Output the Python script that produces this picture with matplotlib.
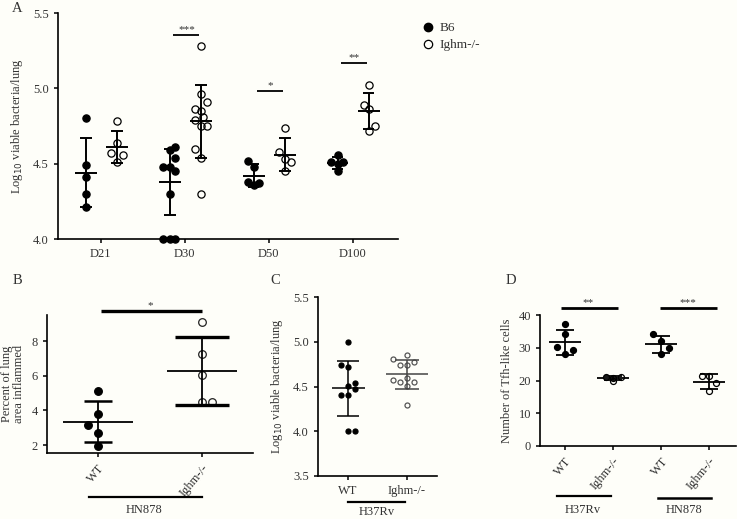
import numpy as np
import matplotlib
matplotlib.use("Agg")
import matplotlib.pyplot as plt
from matplotlib.lines import Line2D

plt.rcParams['font.family'] = ['Liberation Serif', 'DejaVu Serif']
TXT = '#333333'
BG = '#fefef9'

# ---- Panel A data: log10 viable bacteria/lung by day ----
days = ['D21', 'D30', 'D50', 'D100']
a_b6 = [[4.80, 4.49, 4.41, 4.30, 4.21],
        [4.61, 4.59, 4.54, 4.48, 4.48, 4.45, 4.30, 4.00, 4.00, 4.00],
        [4.52, 4.48, 4.38, 4.36, 4.37],
        [4.56, 4.51, 4.51, 4.50, 4.45]]
a_ighm = [[4.78, 4.64, 4.57, 4.56, 4.51],
          [5.28, 4.96, 4.91, 4.86, 4.85, 4.81, 4.79, 4.75, 4.75, 4.60, 4.54, 4.30],
          [4.74, 4.58, 4.53, 4.51, 4.45],
          [5.02, 4.89, 4.86, 4.75, 4.72]]
a_b6_mean = [4.44, 4.38, 4.42, 4.505]
a_b6_sd = [0.23, 0.22, 0.075, 0.04]
a_ighm_mean = [4.61, 4.78, 4.56, 4.85]
a_ighm_sd = [0.105, 0.24, 0.11, 0.12]
a_sig = ['', '***', '*', '**']
a_sig_y = [None, 5.356, 4.985, 5.168]

# ---- Panel B data: percent of lung area inflamed (HN878) ----
b_groups = ['WT', 'Ighm-/-']
b_wt = [5.13, 3.79, 3.17, 2.72, 1.98]
b_ighm = [9.11, 7.24, 6.02, 4.49, 4.49]

# ---- Panel C data: log10 viable bacteria/lung (H37Rv) ----
c_wt = [5.00, 4.74, 4.72, 4.54, 4.51, 4.47, 4.41, 4.40, 4.00, 4.00]
c_ighm = [4.85, 4.81, 4.77, 4.74, 4.74, 4.60, 4.57, 4.55, 4.55, 4.51, 4.29]

# ---- Panel D data: number of Tfh-like cells ----
d_labels = ['WT', 'Ighm-/-', 'WT', 'Ighm-/-']
d_wt_h37 = [37.2, 34.1, 30.1, 29.2, 28.0]
d_ighm_h37 = [21.2, 20.9, 19.9, 21.1]
d_wt_hn = [34.1, 32.1, 30.0, 28.0]
d_ighm_hn = [21.4, 21.4, 19.1, 16.8]

# horizontal scatter (beeswarm-like) offsets, layout only
a_b6_jit = [[0, 0, 0, 0, 0],
            [0.06, 0, 0.06, -0.08, 0, 0.06, 0, -0.08, 0, 0.06],
            [-0.07, 0, -0.07, 0, 0.07],
            [0, -0.08, 0.06, 0, 0]]
a_ighm_jit = [[0, 0, -0.07, 0.07, 0],
              [0, 0, 0.07, -0.07, 0, 0.03, -0.07, 0.07, 0, -0.07, 0, 0],
              [0, -0.07, 0, 0.07, 0],
              [0, -0.06, 0.01, 0.08, 0]]
b_wt_jit = [0, 0, -0.1, 0, 0]
b_ighm_jit = [0, 0, 0, 0, 0.1]
c_wt_jit = [0, -0.125, 0, 0.125, 0, 0.125, -0.125, 0, 0, 0.125]
c_ighm_jit = [0, -0.24, 0.12, -0.12, 0, 0, -0.24, -0.12, 0.12, 0, 0]
d_jit = [[0, 0, -0.16, 0.17, 0], [-0.15, 0, 0, 0.17],
         [-0.16, 0, 0.16, 0], [-0.14, 0, 0.15, 0]]


def group(ax, x0, vals, jit, filled, ms, mean=None, sd=None, mean_hw=0.13,
          cap_hw=0.07, lw=1.4, cap_lw=None, color='black', mcolor='black'):
    vals = np.asarray(vals, float)
    if mean is None:
        mean = vals.mean()
        sd = vals.std(ddof=1)
    cap_lw = lw if cap_lw is None else cap_lw
    ax.plot(x0 + np.asarray(jit), vals, 'o', ms=ms, clip_on=False, zorder=3,
            mfc=mcolor if filled else 'none', mec=mcolor, mew=0.9)
    ax.hlines(mean, x0 - mean_hw, x0 + mean_hw, color=color, lw=lw, zorder=4)
    ax.vlines(x0, mean - sd, mean + sd, color=color, lw=lw, zorder=4)
    ax.hlines([mean - sd, mean + sd], x0 - cap_hw, x0 + cap_hw, color=color,
              lw=cap_lw, zorder=4)


def style(ax, fs=9):
    for s in ['top', 'right']:
        ax.spines[s].set_visible(False)
    for s in ['left', 'bottom']:
        ax.spines[s].set_linewidth(1.2)
    ax.tick_params(labelsize=fs, width=1.1, length=3, colors='black',
                   labelcolor=TXT)
    ax.set_facecolor('none')


fig = plt.figure(figsize=(7.37, 5.19), dpi=100, facecolor=BG)
W, H = 737, 519


def add_axes(l, r, t, b):
    return fig.add_axes([l / W, 1 - b / H, (r - l) / W, (b - t) / H])


# ---------------- Panel A ----------------
ax = add_axes(58, 398, 13, 239)
xs = np.arange(len(days))
for i in range(len(days)):
    group(ax, xs[i] - 0.18, a_b6[i], a_b6_jit[i], True, 5.2,
          a_b6_mean[i], a_b6_sd[i])
    group(ax, xs[i] + 0.19, a_ighm[i], a_ighm_jit[i], False, 5.2,
          a_ighm_mean[i], a_ighm_sd[i])
    if a_sig[i]:
        ax.hlines(a_sig_y[i], xs[i] - 0.14, xs[i] + 0.17, color='black', lw=1.3)
        ax.text(xs[i] + 0.02, a_sig_y[i] + 0.005, a_sig[i], ha='center',
                va='bottom', fontsize=8, color=TXT)
ax.set_xlim(-0.51, 3.54)
ax.set_ylim(4.0, 5.5)
ax.set_yticks([4.0, 4.5, 5.0, 5.5])
ax.set_xticks(xs)
ax.set_xticklabels(days)
ax.set_ylabel('Log$_{10}$ viable bacteria/lung', fontsize=9, color=TXT)
ax.yaxis.set_label_coords(-0.097, 0.5)
style(ax)
handles = [Line2D([], [], marker='o', ls='', ms=6, mfc='black', mec='black'),
           Line2D([], [], marker='o', ls='', ms=6, mfc='none', mec='black',
                  mew=0.9)]
fig.legend(handles, ['B6', 'Ighm-/-'], loc='upper left',
           bbox_to_anchor=(411 / W, 1 - 13 / H), frameon=False, fontsize=9.5,
           handletextpad=0.25, labelspacing=0.35, handlelength=1.2,
           labelcolor=TXT, borderpad=0.2)

# ---------------- Panel B ----------------
ax = add_axes(47, 253, 315, 453)
group(ax, 0, b_wt, b_wt_jit, True, 5.5, mean_hw=0.34, cap_hw=0.13, lw=1.3,
      cap_lw=1.8)
group(ax, 1, b_ighm, b_ighm_jit, False, 5.5, mean_hw=0.34, cap_hw=0.26,
      lw=1.3, cap_lw=2.4, mcolor='#222222')
ax.set_xlim(-0.49, 1.49)
ax.set_ylim(1.55, 9.5)
ax.set_yticks([2, 4, 6, 8])
ax.set_xticks([0, 1])
ax.set_xticklabels(b_groups, rotation=50, ha='right', rotation_mode='anchor')
ax.hlines(9.71, 0.03, 1.0, color='black', lw=2.4, clip_on=False)
ax.text(0.5, 9.78, '*', ha='center', va='bottom', fontsize=8, color=TXT)
tr = ax.get_xaxis_transform()
ax.plot([-0.09, 1.0], [-0.319, -0.319], color='black', lw=1.6,
        transform=tr, clip_on=False)
ax.text(0.44, -0.41, 'HN878', transform=tr, ha='center', va='center',
        fontsize=9, color=TXT)
ax.set_ylabel('Percent of lung\narea inflammed', fontsize=9, color=TXT,
              linespacing=1.0)
ax.yaxis.set_label_coords(-0.105, 0.5)
style(ax)

# ---------------- Panel C ----------------
ax = add_axes(318, 437, 297, 476)
group(ax, 0, c_wt, c_wt_jit, True, 3.6, mean_hw=0.28, cap_hw=0.18, lw=1.1)
group(ax, 1, c_ighm, c_ighm_jit, False, 3.6, mean_hw=0.35, cap_hw=0.2,
      lw=1.1, color='#444444', mcolor='#555555')
ax.set_xlim(-0.51, 1.51)
ax.set_ylim(3.5, 5.5)
ax.set_yticks([3.5, 4.0, 4.5, 5.0, 5.5])
ax.set_xticks([0, 1])
ax.set_xticklabels(b_groups)
tr = ax.get_xaxis_transform()
ax.plot([0.0, 0.97], [-0.145, -0.145], color='black', lw=1.6,
        transform=tr, clip_on=False)
ax.text(0.49, -0.2, 'H37Rv', transform=tr, ha='center', va='center',
        fontsize=9, color=TXT)
ax.set_ylabel('Log$_{10}$ viable bacteria/lung', fontsize=9, color=TXT)
ax.yaxis.set_label_coords(-0.277, 0.5)
style(ax)

# ---------------- Panel D ----------------
ax = add_axes(540, 736, 315, 446)
d_sets = [d_wt_h37, d_ighm_h37, d_wt_hn, d_ighm_hn]
for i, vals in enumerate(d_sets):
    filled = (i % 2 == 0)
    group(ax, i, vals, d_jit[i], filled, 4.3, mean_hw=0.33, cap_hw=0.18,
          lw=1.3)
ax.set_xlim(-0.52, 3.56)
ax.set_ylim(0, 40)
ax.set_yticks([0, 10, 20, 30, 40])
ax.set_xticks(range(4))
ax.set_xticklabels(d_labels, rotation=50, ha='right', rotation_mode='anchor')
ax.hlines(42.0, -0.08, 1.1, color='black', lw=2.0, clip_on=False)
ax.text(0.48, 42.4, '**', ha='center', va='bottom', fontsize=8, color=TXT)
ax.hlines(42.0, 1.97, 3.17, color='black', lw=2.0, clip_on=False)
ax.text(2.55, 42.4, '***', ha='center', va='bottom', fontsize=8, color=TXT)
tr = ax.get_xaxis_transform()
ax.plot([-0.17, 0.95], [-0.38, -0.38], color='black', lw=1.6,
        transform=tr, clip_on=False)
ax.plot([1.93, 3.04], [-0.395, -0.395], color='black', lw=1.8,
        transform=tr, clip_on=False)
ax.text(0.37, -0.49, 'H37Rv', transform=tr, ha='center', va='center',
        fontsize=9, color=TXT)
ax.text(2.48, -0.49, 'HN878', transform=tr, ha='center', va='center',
        fontsize=9, color=TXT)
ax.set_ylabel('Number of Tfh-like cells', fontsize=9, color=TXT)
ax.yaxis.set_label_coords(-0.137, 0.5)
style(ax)

# panel letters
for lab, x, y in [('A', 17, 8), ('B', 17, 281), ('C', 275, 281),
                  ('D', 511, 281)]:
    fig.text(x / W, 1 - y / H, lab, ha='center', va='center', fontsize=10.5,
             color=TXT)

fig.savefig('out.png', dpi=100, facecolor=BG)
